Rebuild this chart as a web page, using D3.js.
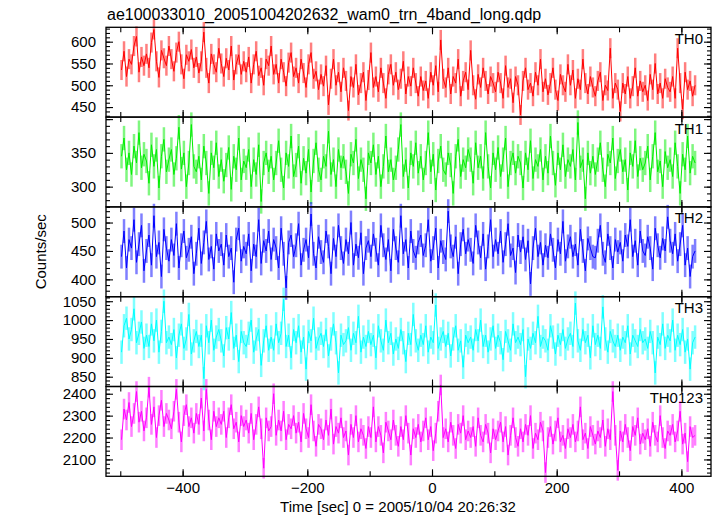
<!DOCTYPE html>
<html><head><meta charset="utf-8">
<script src="https://cdn.jsdelivr.net/npm/d3@7"></script>
<style>body{margin:0;background:#fff} svg{display:block} text{font-family:"Liberation Sans",Arial,Helvetica,sans-serif;fill:#000}</style>
</head><body><svg id="c" width="717" height="516"></svg>
<script>
const titleText = "ae100033010_20051004202632_wam0_trn_4band_long.qdp";
const xLabel = "Time [sec] 0 = 2005/10/04 20:26:32";
const yLabel = "Counts/sec";
const binStart = -500, binWidth = 4;
const panelNames = ["TH0", "TH1", "TH2", "TH3", "TH0123"];
const xTickValues = [-500, -400, -300, -200, -100, 0, 100, 200, 300, 400];
const xLabelValues = [-400, -200, 0, 200, 400];
const yLabelValues = [[450, 500, 550, 600], [300, 350], [400, 450, 500], [850, 900, 950, 1000, 1050], [2100, 2200, 2300, 2400]];

const th0 = [
535,578,520,560,548,590,612,530,565,545,
572,540,598,628,555,518,580,562,545,590,
560,532,575,600,548,515,570,555,582,540,
565,528,555,622,540,505,572,548,530,585,
550,520,562,535,590,512,548,570,525,555,
530,565,505,548,578,522,540,500,560,545,
590,525,548,505,560,530,498,552,575,520,
540,505,560,528,495,548,575,515,532,490,
525,498,545,455,515,560,500,530,485,540,
510,442,520,495,548,478,505,530,465,512,
575,495,520,485,540,505,470,525,548,500,
530,490,515,555,480,520,498,540,505,475,
520,488,510,470,530,500,545,485,604,515,
495,540,480,520,505,560,475,510,530,490,
580,500,468,525,495,540,510,480,520,505,
485,530,505,470,545,495,515,460,520,500,
432,510,540,490,505,475,530,500,560,485,
515,478,505,540,490,465,525,500,485,548,
500,535,470,515,490,560,505,480,520,495,
475,510,530,465,500,488,585,470,505,490,
440,505,480,520,470,498,540,475,510,485,
500,465,525,490,550,480,505,470,515,495,
485,520,470,585,505,445,530,490,510,475,
500];
const th1 = [
345,372,325,350,318,360,335,380,328,348,
338,305,362,330,355,298,345,370,322,340,
355,318,342,388,326,350,300,335,392,330,
322,345,310,360,335,290,350,328,365,315,
340,308,332,358,296,345,325,372,310,338,
328,355,300,340,318,362,278,335,350,322,
345,310,335,368,325,298,350,330,375,315,
332,360,305,342,320,355,292,338,365,325,
310,345,330,382,318,340,300,355,328,345,
322,290,348,335,370,312,340,325,282,350,
335,362,318,345,300,330,375,322,340,310,
328,355,392,315,340,298,350,330,365,320,
345,310,335,380,322,348,295,338,360,325,
318,350,332,290,345,370,315,340,328,355,
340,305,365,328,345,312,380,330,298,350,
325,358,315,340,372,300,335,350,320,345,
335,298,350,325,368,312,340,330,355,310,
345,320,375,335,302,350,325,362,315,340,
330,355,310,395,328,340,282,350,320,345,
318,340,365,325,300,348,335,372,312,338,
355,322,340,295,350,330,368,315,342,325,
335,360,310,345,380,322,338,300,352,328,
340,315,365,330,290,348,325,375,320,345,
335];
const th2 = [
440,485,420,470,455,505,430,462,495,415,
450,478,425,512,440,465,405,488,455,432,
470,442,498,420,460,485,438,452,475,410,
445,490,428,465,502,435,458,418,480,450,
462,425,478,440,455,395,470,490,432,458,
445,480,415,462,440,505,428,468,450,485,
435,470,455,420,490,445,385,465,478,440,
460,498,425,452,470,438,515,445,420,475,
448,430,485,458,410,472,440,495,455,428,
470,445,500,425,462,438,482,410,455,468,
440,480,452,425,495,460,435,470,415,488,
455,430,512,445,470,420,485,450,438,465,
478,442,460,505,432,455,490,420,468,448,
435,520,458,440,475,410,462,488,445,470,
452,428,495,465,438,480,418,458,505,440,
470,445,485,430,462,498,442,455,412,478,
448,475,435,468,392,455,490,440,465,425,
460,438,480,452,420,470,445,502,432,458,
475,440,462,425,488,450,415,472,455,440,
438,468,495,445,430,480,455,420,470,448,
465,432,478,458,505,440,468,425,485,450,
442,475,455,418,490,460,438,472,450,510,
468,445,480,432,462,495,425,455,405,440,
450];
const th3 = [
915,985,1005,950,975,1030,940,965,995,925,
960,930,990,945,1000,915,970,1050,940,955,
935,975,900,960,990,925,950,1015,910,945,
970,930,960,845,985,940,1000,920,955,975,
945,905,980,950,1020,925,960,890,970,940,
930,965,1000,915,950,975,880,945,985,920,
955,920,990,940,965,1055,930,960,900,975,
940,985,915,955,870,970,945,1005,925,950,
965,930,975,905,950,990,940,860,960,935,
945,980,920,965,940,1010,915,955,930,970,
935,960,900,985,945,920,1000,940,965,910,
950,925,975,940,890,965,935,1015,945,920,
960,935,985,915,955,940,1040,925,950,970,
930,965,905,950,985,920,945,875,960,940,
955,920,975,945,1000,930,960,915,950,985,
925,960,940,895,970,945,920,990,940,955,
935,975,850,950,925,965,940,1010,930,955,
945,920,985,955,910,960,935,975,925,950,
965,930,1045,945,920,975,940,960,900,985,
935,960,925,1035,950,915,970,945,930,960,
920,955,940,985,910,960,945,930,975,940,
950,925,970,940,860,955,935,990,925,960,
945,1000,920,960,935,975,915,950,870,940,
955];
const th0123 = [
2190,2330,2280,2360,2250,2310,2410,2270,2320,2230,
2290,2430,2260,2340,2200,2300,2370,2250,2310,2280,
2240,2320,2420,2270,2180,2300,2350,2250,2290,2220,
2310,2260,2380,2230,2420,2280,2190,2320,2250,2290,
2260,2320,2200,2290,2350,2240,2270,2180,2300,2250,
2280,2220,2310,2190,2260,2340,2240,2060,2290,2230,
2250,2400,2210,2280,2230,2320,2190,2260,2240,2300,
2220,2270,2180,2310,2240,2200,2350,2230,2160,2260,
2240,2190,2280,2210,2330,2170,2250,2220,2290,2200,
2230,2120,2260,2200,2300,2180,2240,2210,2150,2250,
2200,2340,2180,2250,2210,2130,2270,2230,2190,2280,
2210,2160,2250,2190,2300,2220,2120,2240,2200,2260,
2180,2230,2290,2190,2250,2140,2220,2320,2440,2200,
2240,2180,2270,2210,2150,2260,2220,2300,2190,2230,
2200,2250,2160,2290,2210,2180,2260,2220,2130,2240,
2190,2230,2270,2180,2250,2120,2210,2290,2200,2160,
2240,2180,2260,2210,2300,2150,2220,2190,2270,2230,
2040,2200,2250,2170,2230,2290,2180,2210,2150,2240,
2200,2260,2180,2230,2340,2190,2220,2150,2250,2210,
2170,2230,2200,2280,2160,2240,2190,2410,2210,2050,
2230,2180,2260,2200,2140,2250,2210,2290,2170,2220,
2190,2240,2160,2270,2210,2180,2300,2200,2150,2230,
2210,2260,2180,2230,2320,2170,2220,2090,2250,2200,
2210];
const seriesValues = [th0, th1, th2, th3, th0123];
const seriesErrors = [23, 18, 21, 31, 47];
const seriesColors = ["#ff0000", "#00ee00", "#0000ff", "#00ffff", "#ff00ff"];
const yDomains = [[427, 633], [270, 403], [369.5, 527.5], [824, 1062], [2023, 2433]];
const yMajorStep = [50, 50, 50, 50, 100];
const yMinorStep = [10, 10, 10, 10, 20];

const plotL = 106, plotR = 711, plotT = 27.3, panelH = 89.8;
const svg = d3.select("#c");
const x = d3.scaleLinear().domain([-522.9, 447.5]).range([plotL, plotR]);
const fmt = d3.format("");
const binPx = x(binWidth) - x(0);

const plotLayer = svg.append("g");
const axisLayer = svg.append("g");

seriesValues.forEach((vals, p) => {
  const y0 = plotT + p * panelH, y1 = y0 + panelH;
  const y = d3.scaleLinear().domain(yDomains[p]).range([y1, y0]);
  const col = seriesColors[p];
  const pts = vals.map((v, i) => ({t: binStart + i * binWidth + binWidth / 2, v}));
  plotLayer.append("g").selectAll("line").data(pts).join("line")
    .attr("x1", d => x(d.t)).attr("x2", d => x(d.t))
    .attr("y1", d => y(d.v - seriesErrors[p])).attr("y2", d => y(d.v + seriesErrors[p]))
    .attr("stroke", col).attr("stroke-opacity", 0.5).attr("stroke-width", binPx);
  const line = d3.line().x(d => x(d.t)).y(d => y(d.v));
  plotLayer.append("path").datum(pts).attr("d", line)
    .attr("fill", "none").attr("stroke", col).attr("stroke-width", 1);

  const g = axisLayer.append("g");
  const dom = yDomains[p];
  const minor = d3.range(Math.ceil(dom[0] / yMinorStep[p]) * yMinorStep[p], dom[1], yMinorStep[p]);
  const major = d3.range(Math.ceil(dom[0] / yMajorStep[p]) * yMajorStep[p], dom[1], yMajorStep[p]);
  g.append("g").attr("transform", `translate(${plotL},0)`)
    .call(d3.axisLeft(y).tickValues(minor).tickSizeInner(-4).tickSizeOuter(0).tickFormat(""));
  g.append("g").attr("transform", `translate(${plotR},0)`)
    .call(d3.axisRight(y).tickValues(minor).tickSizeInner(-4).tickSizeOuter(0).tickFormat(""));
  g.append("g").attr("transform", `translate(${plotL},0)`)
    .call(d3.axisLeft(y).tickValues(major).tickSizeInner(-7).tickSizeOuter(0).tickFormat(""));
  g.append("g").attr("transform", `translate(${plotL},0)`)
    .call(d3.axisLeft(y).tickValues(yLabelValues[p]).tickSize(0).tickPadding(10).tickFormat(fmt));
  g.append("g").attr("transform", `translate(${plotR},0)`)
    .call(d3.axisRight(y).tickValues(major).tickSizeInner(-7).tickSizeOuter(0).tickFormat(""));
  g.append("g").attr("transform", `translate(0,${y0})`)
    .call(d3.axisTop(x).tickValues(xTickValues).tickSizeInner(-5).tickSizeOuter(0).tickFormat(""));
  g.append("g").attr("transform", `translate(0,${y1})`)
    .call(d3.axisBottom(x).tickValues(xTickValues).tickSizeInner(-5).tickSizeOuter(0).tickFormat(""));
  g.append("g").attr("transform", `translate(0,${y0})`)
    .call(d3.axisTop(x).tickValues(xLabelValues).tickSizeInner(-7).tickSizeOuter(0).tickFormat(""));
  g.append("g").attr("transform", `translate(0,${y1})`)
    .call(d3.axisBottom(x).tickValues(xLabelValues).tickSizeInner(-7).tickSizeOuter(0).tickFormat(""));
  if (p === seriesValues.length - 1) {
    g.append("g").attr("transform", `translate(0,${y1})`)
      .call(d3.axisBottom(x).tickValues(xLabelValues).tickSize(0).tickPadding(6).tickFormat(fmt));
  }
  g.selectAll(".domain").remove();
  g.append("rect").attr("x", plotL).attr("y", y0).attr("width", plotR - plotL).attr("height", panelH)
    .attr("fill", "none").attr("stroke", "#000").attr("stroke-width", 1.3);
  g.append("text").attr("x", 703).attr("y", y0 + 16.5).attr("text-anchor", "end")
    .attr("font-size", 15).text(panelNames[p]);
});
axisLayer.selectAll(".tick line").attr("stroke", "#000").attr("stroke-width", 1.1);
axisLayer.selectAll(".tick text").attr("font-size", 15).attr("font-family", '"Liberation Sans",Arial,sans-serif').attr("fill", "#000");

svg.append("text").attr("x", 107).attr("y", 20).attr("font-size", 16).text(titleText);
svg.append("text").attr("x", 398).attr("y", 511.5).attr("text-anchor", "middle").attr("font-size", 15).text(xLabel);
svg.append("text").attr("transform", `translate(46,${plotT + 2.5 * panelH}) rotate(-90)`)
  .attr("text-anchor", "middle").attr("font-size", 15).text(yLabel);
</script></body></html>
